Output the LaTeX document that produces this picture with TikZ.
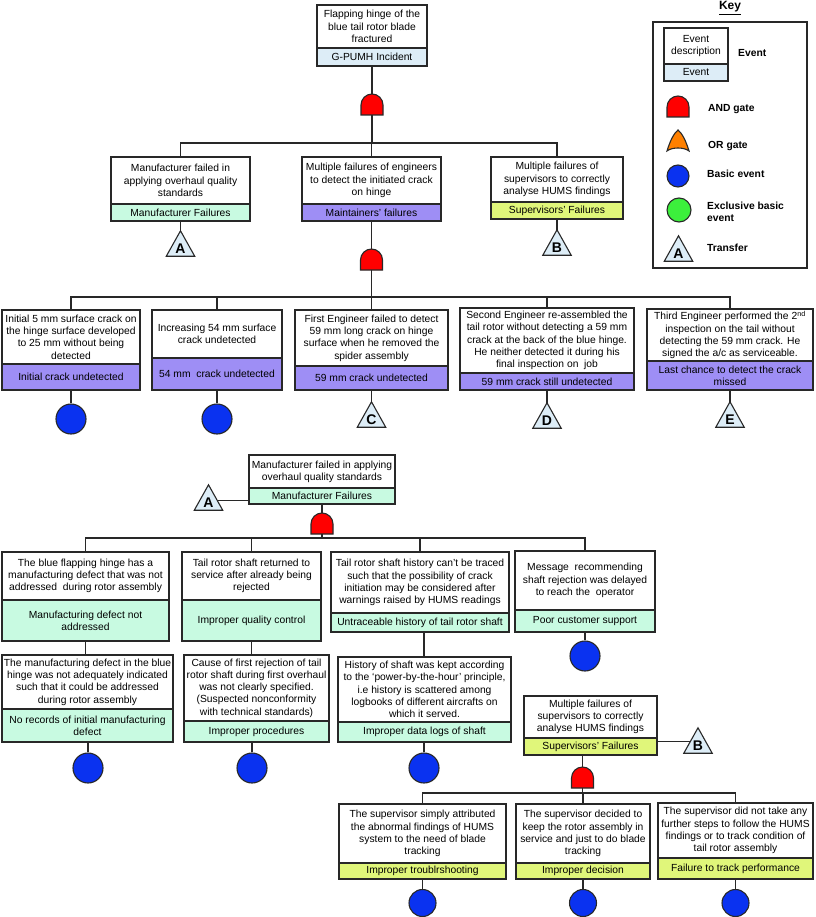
\documentclass[tikz,border=0pt]{standalone}
\usepackage{fontspec}
\setmainfont{Liberation Sans}
\usetikzlibrary{calc}
\definecolor{lc}{RGB}{40,40,40}
\definecolor{evblue}{RGB}{221,237,247}
\definecolor{mfgreen}{RGB}{200,250,225}
\definecolor{mtpurple}{RGB}{158,142,245}
\definecolor{svyellow}{RGB}{224,246,122}
\definecolor{andred}{RGB}{255,0,0}
\definecolor{orgate}{RGB}{255,128,0}
\definecolor{bblue}{RGB}{10,50,240}
\definecolor{exgreen}{RGB}{60,240,60}
\tikzset{
 every node/.style={font=\fontsize{10.3}{12.3}\selectfont},
 evtop/.style={draw=lc, line width=1.2pt, fill=white, inner sep=0pt, align=center},
 evbot/.style={draw=lc, line width=1.2pt, inner sep=0pt, align=center},
 conn/.style={draw=lc, line width=1.3pt},
 basic/.style={circle, draw=lc, line width=1.1pt, fill=bblue, minimum size=30pt, inner sep=0pt},
 gatefill/.style={draw=lc, line width=1.1pt, fill=andred},
 trif/.style={draw=lc, line width=1.1pt, fill=evblue},
 letter/.style={font=\fontsize{14}{14}\selectfont\bfseries, inner sep=0pt},
 keylab/.style={font=\fontsize{10.3}{12.3}\selectfont\bfseries, anchor=west, inner sep=0pt, align=left},
}
% name, left, right, top, div, bottom, colour, text, label
\newcommand\evbox[9]{%
 \node[evtop, minimum width={(#3-#2)*1pt}, minimum height={(#5-#4)*1pt}] (#1) at ({(#2+#3)/2},{(#4+#5)/2}) {#8};
 \node[evbot, fill=#7, minimum width={(#3-#2)*1pt}, minimum height={(#6-#5)*1pt}] (#1l) at ({(#2+#3)/2},{(#5+#6)/2}) {#9};
}
% name, cx, top
\newcommand\andgate[3]{%
 \node[inner sep=0pt, minimum width=22pt, minimum height=21pt] (#1) at (#2,#3+10.5) {};
 \draw[gatefill] (#2-11,#3+21) -- (#2-11,#3+11) .. controls (#2-11,#3+4.9) and (#2-6.1,#3) .. (#2,#3) .. controls (#2+6.1,#3) and (#2+11,#3+4.9) .. (#2+11,#3+11) -- (#2+11,#3+21) -- cycle;
}
% name, cx, top, letter
\newcommand\transfer[4]{%
 \node[inner sep=0pt, minimum width=28pt, minimum height=25pt] (#1) at (#2,#3+12.5) {};
 \draw[trif] (#1.south west) -- (#1.north) -- (#1.south east) -- cycle;
 \node[letter] (#1t) at ([yshift=-5pt]#1.center) {#4};
}
\begin{document}
\begin{tikzpicture}[x=1pt,y=-1pt]
\useasboundingbox (0,0) rectangle (815,917);

% ---------- top tree ----------
\evbox{top}{317}{427}{5}{48}{66}{evblue}{Flapping hinge of the\\blue tail rotor blade\\fractured}{G-PUMH Incident}
\andgate{g1}{372}{94}
\coordinate (b1) at (372,143);

\evbox{mf}{111}{250}{157}{204}{221}{mfgreen}{Manufacturer failed in\\applying overhaul quality\\standards}{Manufacturer Failures}
\evbox{mt}{302}{441}{157}{204}{221}{mtpurple}{Multiple failures of engineers\\to detect the initiated crack\\on hinge}{Maintainers’ failures}
\evbox{sv}{491}{623}{157}{202}{219}{svyellow}{Multiple failures of\\supervisors to correctly\\analyse HUMS findings}{Supervisors’ Failures}
\transfer{tA}{180.5}{231}{A}
\andgate{g2}{371.5}{249}
\transfer{tB}{557}{230}{B}

\draw[conn] (topl.south) -- (g1.north);
\draw[conn] (g1.south) -- (b1);
\draw[conn] (mf.north) |- (b1) -| (sv.north);
\draw[conn] (mt.north) -- (mt.north |- b1);
\draw[conn] (mfl.south) -- (tA.north);
\draw[conn] (mtl.south) -- (g2.north);
\draw[conn] (svl.south) -- (tB.north);

\coordinate (b2) at (371.5,297);
\evbox{r1}{2}{140}{310}{364}{390}{mtpurple}{Initial 5 mm surface crack on\\the hinge surface developed\\to 25 mm without being\\detected}{Initial crack undetected}
\evbox{r2}{152}{282}{310}{358}{390}{mtpurple}{Increasing 54 mm surface\\crack undetected}{54 mm\ \ crack undetected}
\evbox{r3}{295}{448}{310}{366}{390}{mtpurple}{First Engineer failed to detect\\59 mm long crack on hinge\\surface when he removed the\\spider assembly}{59 mm crack undetected}
\evbox{r4}{460}{634}{308}{373}{390}{mtpurple}{Second Engineer re-assembled the\\tail rotor without detecting a 59 mm\\crack at the back of the blue hinge.\\He neither detected it during his\\final inspection on\ \ job}{59 mm crack still undetected}
\evbox{r5}{647}{813}{309}{361}{390}{mtpurple}{Third Engineer performed the 2\textsuperscript{nd}\\inspection on the tail without\\detecting the 59 mm crack. He\\signed the a/c as serviceable.}{Last chance to detect the crack\\missed}
\node[basic] (c1) at (71,419) {};
\node[basic] (c2) at (217,419) {};
\transfer{tC}{371.5}{402}{C}
\transfer{tD}{547}{403}{D}
\transfer{tE}{730}{402}{E}

\draw[conn] (g2.south) -- (b2);
\draw[conn] (r1.north) |- (b2) -| (r5.north);
\draw[conn] (r2.north) -- (r2.north |- b2);
\draw[conn] (r3.north) -- (r3.north |- b2);
\draw[conn] (r4.north) -- (r4.north |- b2);
\draw[conn] (r1l.south) -- (c1.north);
\draw[conn] (r2l.south) -- (c2.north);
\draw[conn] (r3l.south) -- (tC.north);
\draw[conn] (r4l.south) -- (tD.north);
\draw[conn] (r5l.south) -- (tE.north);

% ---------- manufacturer subtree ----------
\evbox{m2}{249}{395}{455}{488}{504}{mfgreen}{Manufacturer failed in applying\\overhaul quality standards}{Manufacturer Failures}
\transfer{tA2}{208.5}{485}{A}
\coordinate (tA2e) at ($(tA2.north)!0.625!(tA2.south east)$);
\draw[conn] (tA2e) -- (tA2e -| m2l.west);
\andgate{g3}{322}{513}
\coordinate (b3) at (322,538);

\evbox{L1}{2}{169}{552}{600}{641}{mfgreen}{The blue flapping hinge has a\\manufacturing defect that was not\\addressed\ \ during rotor assembly}{Manufacturing defect not\\addressed}
\evbox{L2}{182}{321}{552}{600}{641}{mfgreen}{Tail rotor shaft returned to\\service after already being\\rejected}{Improper quality control}
\evbox{L3}{331}{509}{552}{613}{632}{mfgreen}{Tail rotor shaft history can’t be traced\\such that the possibility of crack\\initiation may be considered after\\warnings raised by HUMS readings}{Untraceable history of tail rotor shaft}
\evbox{L4}{515}{655}{551}{610}{632}{mfgreen}{Message\ \ recommending\\shaft rejection was delayed\\to reach the\ \ operator}{Poor customer support}
\node[basic] (c10) at (585,656) {};
\evbox{L1b}{2}{173}{655}{709}{742}{mfgreen}{The manufacturing defect in the blue\\hinge was not adequately indicated\\such that it could be addressed\\during rotor assembly}{No records of initial manufacturing\\defect}
\evbox{L2b}{184}{329}{655}{721}{742}{mfgreen}{Cause of first rejection of tail\\rotor shaft during first overhaul\\was not clearly specified.\\(Suspected nonconformity\\with technical standards)}{Improper procedures}
\evbox{L3b}{338}{511}{657}{722}{742}{mfgreen}{History of shaft was kept according\\to the ‘power-by-the-hour’ principle,\\i.e history is scattered among\\logbooks of different aircrafts on\\which it served.}{Improper data logs of shaft}
\node[basic] (c7) at (88,768) {};
\node[basic] (c8) at (252,768) {};
\node[basic] (c9) at (424,768) {};

\draw[conn] (m2l.south) -- (g3.north);
\draw[conn] (g3.south) -- (b3);
\draw[conn] (L1.north) |- (b3) -| (L4.north);
\draw[conn] (L2.north) -- (L2.north |- b3);
\draw[conn] (L3.north) -- (L3.north |- b3);
\draw[conn] (L4l.south) -- (c10.north);
\draw[conn] (L1l.south) -- (L1l.south |- L1b.north);
\draw[conn] (L2l.south) -- (L2l.south |- L2b.north);
\draw[conn] (c9.north |- L3l.south) -- (c9.north |- L3b.north);
\draw[conn] (c7.north) -- (c7.north |- L1bl.south);
\draw[conn] (c8.north) -- (c8.north |- L2bl.south);
\draw[conn] (c9.north) -- (c9.north |- L3bl.south);

% ---------- supervisors subtree ----------
\evbox{S2}{524}{657}{696}{738}{755}{svyellow}{Multiple failures of\\supervisors to correctly\\analyse HUMS findings}{Supervisors’ Failures}
\transfer{tB2}{698}{728}{B}
\coordinate (tB2e) at ($(tB2.north)!0.54!(tB2.south west)$);
\draw[conn] (tB2e) -- (tB2e -| S2l.east);
\andgate{g4}{582.5}{767}
\coordinate (b4) at (582.5,793);
\evbox{S3a}{339}{506}{804}{863}{879}{svyellow}{The supervisor simply attributed\\the abnormal findings of HUMS\\system to the need of blade\\tracking}{Improper troublrshooting}
\evbox{S3b}{516}{650}{804}{863}{879}{svyellow}{The supervisor decided to\\keep the rotor assembly in\\service and just to do blade\\tracking}{Improper decision}
\evbox{S3c}{658}{813}{803}{858}{879}{svyellow}{The supervisor did not take any\\further steps to follow the HUMS\\findings or to track condition of\\tail rotor assembly}{Failure to track performance}
\node[basic, minimum size=27pt] (c11) at (422.5,903) {};
\node[basic, minimum size=27pt] (c12) at (583,903) {};
\node[basic, minimum size=27pt] (c13) at (735.5,903) {};

\draw[conn] (g4.north) -- (g4.north |- S2l.south);
\draw[conn] (g4.south) -- (b4);
\draw[conn] (S3a.north) |- (b4) -| (S3c.north);
\draw[conn] (S3b.north) -- (S3b.north |- b4);
\draw[conn] (S3al.south) -- (c11.north);
\draw[conn] (S3bl.south) -- (c12.north);
\draw[conn] (S3cl.south) -- (c13.north);

% ---------- key ----------
\node[font=\fontsize{12}{14}\selectfont\bfseries] (keyt) at (730,8) {\underline{Key}};
\node[draw=lc, line width=1.2pt, minimum width=154pt, minimum height=246pt, inner sep=0pt] (key) at (730,145) {};
\evbox{ke}{664}{728}{28}{64}{81}{evblue}{Event\\description}{Event}
\node[keylab] (kl1) at (738,53) {Event};
\andgate{kg}{678}{96}
\node[keylab] (kl2) at (708,109) {AND gate};
\draw[draw=lc, line width=1.1pt, fill=orgate] (667,151) .. controls (670,141) and (674,133) .. (678,130) .. controls (682,133) and (686,141) .. (689,151) .. controls (684,147) and (672,147) .. (667,151) -- cycle;
\node[keylab] (kl3) at (708,146) {OR gate};
\node[basic, minimum size=22pt] (kb) at (678,176) {};
\node[keylab] (kl4) at (707,174) {Basic event};
\node[basic, fill=exgreen, minimum size=24pt] (kx) at (679,210) {};
\node[keylab] (kl5) at (707,212) {Exclusive basic\\event};
\transfer{kt}{678.5}{236}{A}
\node[keylab] (kl6) at (707,248) {Transfer};
\end{tikzpicture}
\end{document}
